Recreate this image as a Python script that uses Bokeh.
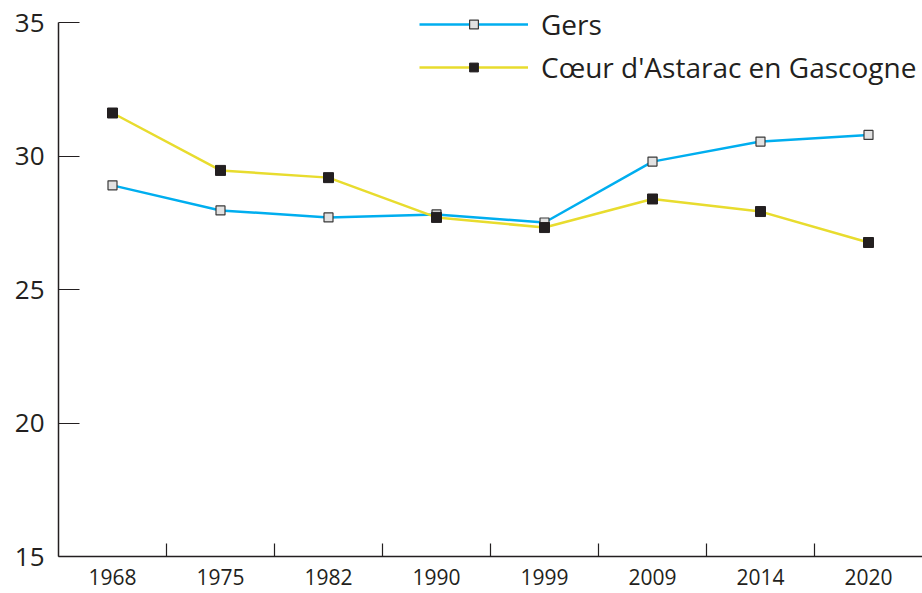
from bokeh.plotting import figure
from bokeh.models import Range1d, FixedTicker, Legend, LegendItem
from bokeh.embed import file_html
from bokeh.resources import INLINE

years = ["1968", "1975", "1982", "1990", "1999", "2009", "2014", "2020"]
gers = [28.9, 27.96, 27.7, 27.81, 27.51, 29.79, 30.54, 30.79]
coeur = [31.61, 29.46, 29.19, 27.70, 27.32, 28.39, 27.92, 26.76]
series_names = ["Gers", "Cœur d'Astarac en Gascogne"]
y_ticks = [15, 20, 25, 30, 35]

xs = [i + 0.5 for i in range(len(years))]
bounds = [i for i in range(1, len(years))]

FONT = "Open Sans"
TXT = "#231f20"

H = 593
BOTTOM = 37
TOP_GAP = 22  # pixels between frame top and the 35 tick
frame_h = H - BOTTOM
y0, y1 = y_ticks[0], y_ticks[-1]
ppu = (frame_h - TOP_GAP) / (y1 - y0)
y_end = y0 + frame_h / ppu

p = figure(width=922, height=H, output_backend="svg", toolbar_location=None,
           x_range=Range1d(0, len(years)), y_range=Range1d(y0, y_end),
           min_border_left=58, min_border_right=0, min_border_top=0, min_border_bottom=BOTTOM,
           background_fill_color="white", border_fill_color="white")
p.outline_line_color = None
p.grid.visible = False

# x axis
xa = p.xaxis[0]
xa.ticker = FixedTicker(ticks=xs, minor_ticks=bounds)
xa.major_label_overrides = {x: y for x, y in zip(xs, years)}
xa.major_tick_in = 0
xa.major_tick_out = 0
xa.minor_tick_in = 13
xa.minor_tick_out = 0
xa.minor_tick_line_color = TXT
xa.minor_tick_line_width = 1.2
xa.axis_line_color = TXT
xa.axis_line_width = 1.5
xa.major_label_text_font = FONT
xa.major_label_text_font_size = "21px"
xa.major_label_text_color = TXT
xa.major_label_standoff = 12

# y axis
ya = p.yaxis[0]
ya.ticker = FixedTicker(ticks=y_ticks, minor_ticks=[])
ya.bounds = (y0, y1)
ya.major_tick_in = 21
ya.major_tick_out = 0
ya.major_tick_line_color = TXT
ya.major_tick_line_width = 1.2
ya.axis_line_color = TXT
ya.axis_line_width = 1.5
ya.major_label_text_font = FONT
ya.major_label_text_font_size = "26px"
ya.major_label_text_color = TXT
ya.major_label_standoff = 14

l1 = p.line(xs, gers, line_color="#00aeef", line_width=2.5)
s1 = p.scatter(xs, gers, marker="square", size=9, fill_color="#e2e2e2",
               line_color="#3a3a3a", line_width=1.2)
l2 = p.line(xs, coeur, line_color="#e8dc2e", line_width=2.5)
s2 = p.scatter(xs, coeur, marker="square", size=10, fill_color="#231f20",
               line_color="#231f20", line_width=1)

legend = Legend(items=[LegendItem(label=series_names[0], renderers=[l1, s1]),
                       LegendItem(label=series_names[1], renderers=[l2, s2])],
                location=(361, 470), orientation="vertical",
                glyph_width=109, glyph_height=22, label_height=22, spacing=5,
                padding=0, margin=0, label_standoff=13,
                border_line_color=None, background_fill_alpha=0,
                label_text_font=FONT, label_text_font_size="28px",
                label_text_color=TXT)
p.add_layout(legend, "center")

open("out.html", "w").write(file_html(p, INLINE))
